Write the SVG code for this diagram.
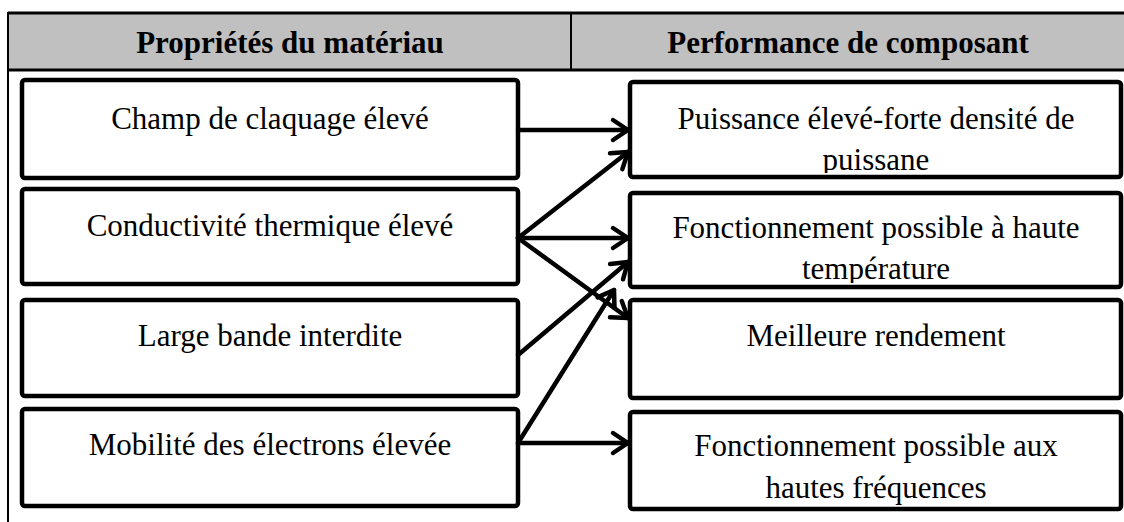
<svg xmlns="http://www.w3.org/2000/svg" width="1124" height="522" viewBox="0 0 1124 522">
<style>
.box{fill:#fff;stroke:#000;stroke-width:4.5}
.t{font-family:"Liberation Serif","Times New Roman",serif;font-size:31px;fill:#000;text-anchor:middle}
.h{font-family:"Liberation Serif","Times New Roman",serif;font-size:31px;font-weight:bold;fill:#000;text-anchor:middle}
.c{fill:none;stroke:#000;stroke-width:4.5;stroke-linecap:round}
</style>
<defs>
<marker id="arr" markerUnits="userSpaceOnUse" markerWidth="30" markerHeight="30" refX="0" refY="0" viewBox="-20 -15 25 30" orient="auto" overflow="visible">
<path d="M-15,-10 L0,0 L-15,10" fill="none" stroke="#000" stroke-width="4.5" stroke-linecap="round" stroke-linejoin="round"/>
</marker>
<clipPath id="clipA"><rect x="633" y="84" width="486" height="89"/></clipPath>
<clipPath id="clipB"><rect x="633" y="195" width="486" height="88"/></clipPath>
</defs>
<g id="table">
<rect x="8" y="13" width="1116" height="57" fill="#c0c0c0"/>
<line x1="8" y1="13" x2="1124" y2="13" stroke="#000" stroke-width="3"/>
<line x1="8" y1="70" x2="1124" y2="70" stroke="#000" stroke-width="3"/>
<line x1="8" y1="12" x2="8" y2="522" stroke="#000" stroke-width="2"/>
<line x1="571" y1="13" x2="571" y2="70" stroke="#000" stroke-width="2"/>
<text class="h" x="290" y="53">Propriétés du matériau</text>
<text class="h" x="848" y="53">Performance de composant</text>
</g>
<g id="n1"><rect class="box" x="22" y="80" width="496" height="98" rx="3"/><text class="t" x="270" y="128.5">Champ de claquage élevé</text></g>
<g id="n2"><rect class="box" x="22" y="189" width="496" height="95" rx="3"/><text class="t" x="270" y="235.5">Conductivité thermique élevé</text></g>
<g id="n3"><rect class="box" x="22" y="300" width="496" height="96" rx="3"/><text class="t" x="270" y="345.5">Large bande interdite</text></g>
<g id="n4"><rect class="box" x="22" y="409" width="496" height="97" rx="3"/><text class="t" x="270" y="454.5">Mobilité des électrons élevée</text></g>
<g id="nA"><rect class="box" x="630" y="82" width="491" height="95" rx="3"/><g clip-path="url(#clipA)"><text class="t" x="876" y="128.5">Puissance élevé-forte densité de</text><text class="t" x="876" y="169.5">puissane</text></g></g>
<g id="nB"><rect class="box" x="630" y="193" width="491" height="94" rx="3"/><g clip-path="url(#clipB)"><text class="t" x="876" y="237.5">Fonctionnement possible à haute</text><text class="t" x="876" y="278.5">température</text></g></g>
<g id="nC"><rect class="box" x="630" y="300" width="491" height="98" rx="3"/><text class="t" x="876" y="345.5">Meilleure rendement</text></g>
<g id="nD"><rect class="box" x="630" y="412" width="491" height="97" rx="3"/><text class="t" x="876" y="455.5">Fonctionnement possible aux</text><text class="t" x="876" y="497.5">hautes fréquences</text></g>
<g id="connectors">
<line class="c" x1="518" y1="130" x2="628" y2="130" marker-end="url(#arr)"/>
<line class="c" x1="518" y1="238" x2="628" y2="152" marker-end="url(#arr)"/>
<line class="c" x1="518" y1="238" x2="628" y2="238" marker-end="url(#arr)"/>
<line class="c" x1="518" y1="238" x2="628" y2="318" marker-end="url(#arr)"/>
<line class="c" x1="518" y1="355" x2="628" y2="262" marker-end="url(#arr)"/>
<line class="c" x1="518" y1="443" x2="614" y2="290" marker-end="url(#arr)"/>
<line class="c" x1="518" y1="443" x2="628" y2="443" marker-end="url(#arr)"/>
</g>
</svg>
